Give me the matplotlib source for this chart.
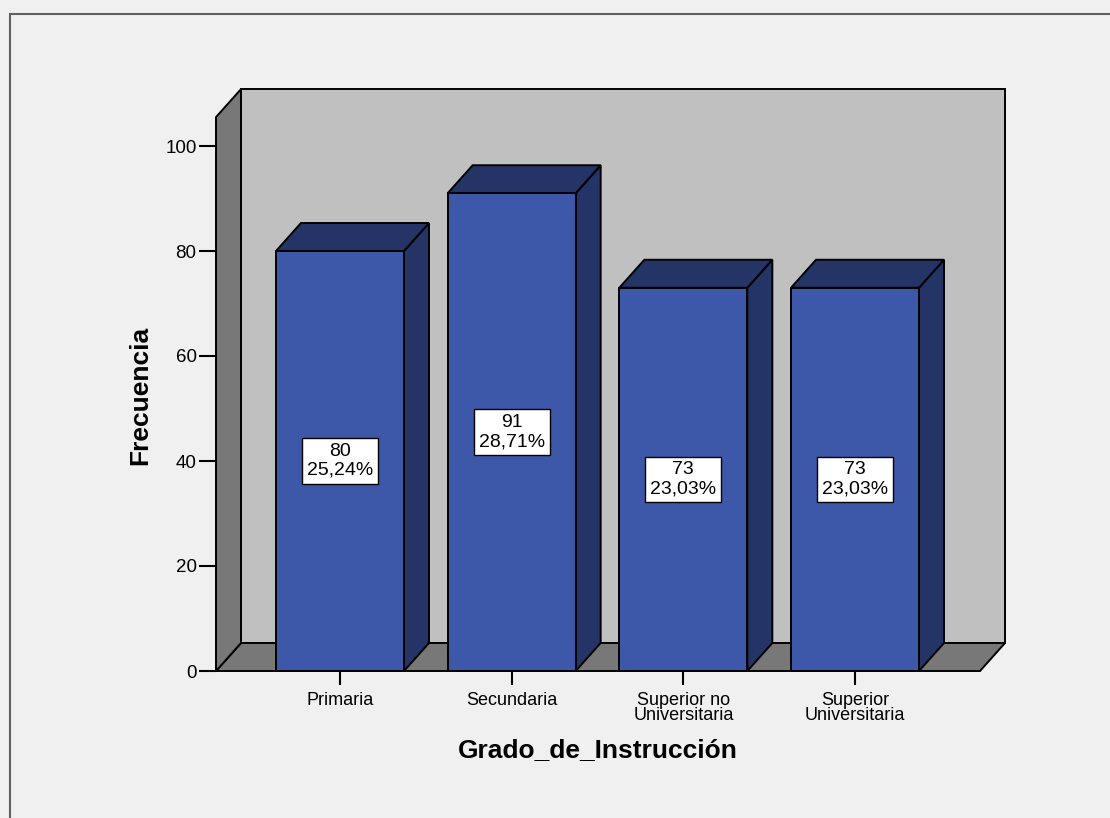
import matplotlib.pyplot as plt
from matplotlib.patches import Polygon, Rectangle

plt.rcParams['font.family'] = ['Liberation Sans', 'DejaVu Sans']

categories = ["Primaria", "Secundaria", "Superior no\nUniversitaria", "Superior\nUniversitaria"]
counts = [80, 91, 73, 73]
percents = ["25,24%", "28,71%", "23,03%", "23,03%"]
yticks = [0, 20, 40, 60, 80, 100]

FRONT = "#3d57a9"
DARK = "#253467"
WALL = "#c0c0c0"
FLOOR = "#787878"
BG = "#f0f0f0"

W, H = 1110, 818
fig = plt.figure(figsize=(W / 100, H / 100), dpi=100, facecolor=BG)

# frame around the chart area
fig.patches.append(Rectangle((10 / W, -0.1), 1.2, 1 - 14 / H + 0.1, transform=fig.transFigure,
                             fill=False, edgecolor="#606060", lw=1.5))

# axes placed in pixel terms: left wall front edge .. back wall right edge
px_left, px_right, px_bottom, px_top = 216, 1005, 671, 89
ax = fig.add_axes([px_left / W, 1 - px_bottom / H, (px_right - px_left) / W, (px_bottom - px_top) / H])
step = 171.67        # px per category
unit = 5.25          # px per count
ax.set_xlim(-(340 - px_left) / step, -(340 - px_left) / step + (px_right - px_left) / step)
ax.set_ylim(0, (px_bottom - px_top) / unit)
ax.patch.set_visible(False)
for s in ax.spines.values():
    s.set_visible(False)

x0 = -(340 - px_left) / step
x1 = (980 - 340) / step
dx = 25 / step
dy = 28 / unit
top = 105.5
ec = dict(edgecolor="black", lw=1.4, joinstyle="miter", clip_on=False)

# back wall, floor, left wall
ax.add_patch(Polygon([(x0 + dx, dy), (x1 + dx, dy), (x1 + dx, top + dy), (x0 + dx, top + dy)], facecolor=WALL, **ec))
ax.add_patch(Polygon([(x0, 0), (x1, 0), (x1 + dx, dy), (x0 + dx, dy)], facecolor=FLOOR, **ec))
ax.add_patch(Polygon([(x0, 0), (x0 + dx, dy), (x0 + dx, top + dy), (x0, top)], facecolor=FLOOR, **ec))

bw = 128 / step
for i, (v, p) in enumerate(zip(counts, percents)):
    l, r = i - bw / 2, i + bw / 2
    ax.add_patch(Polygon([(r, 0), (r + dx, dy), (r + dx, v + dy), (r, v)], facecolor=DARK, **ec))
    ax.add_patch(Polygon([(l, v), (r, v), (r + dx, v + dy), (l + dx, v + dy)], facecolor=DARK, **ec))
    ax.add_patch(Polygon([(l, 0), (r, 0), (r, v), (l, v)], facecolor=FRONT, **ec))
    ax.text(i, v / 2, f"{v}\n{p}", ha="center", va="center", fontsize=14, linespacing=1.15,
            bbox=dict(boxstyle="square,pad=0.25", facecolor="white", edgecolor="black", lw=1.0))

ax.set_yticks(yticks)
ax.set_yticklabels([str(t) for t in yticks], fontsize=13.5)
ax.set_xticks(range(len(categories)))
ax.set_xticklabels(categories, fontsize=13, linespacing=0.85, va="top")
ax.tick_params(axis="y", length=12, width=1.5, pad=2)
ax.tick_params(axis="x", length=10, width=1.5, pad=5)

fig.text(140 / W, 1 - 395 / H, "Frecuencia", rotation=90, ha="center", va="center",
         fontsize=19, fontweight="bold")
fig.text(598 / W, 1 - 750 / H, "Grado_de_Instrucción", ha="center", va="center",
         fontsize=19, fontweight="bold")

fig.savefig("out.png", dpi=100, facecolor=BG)
